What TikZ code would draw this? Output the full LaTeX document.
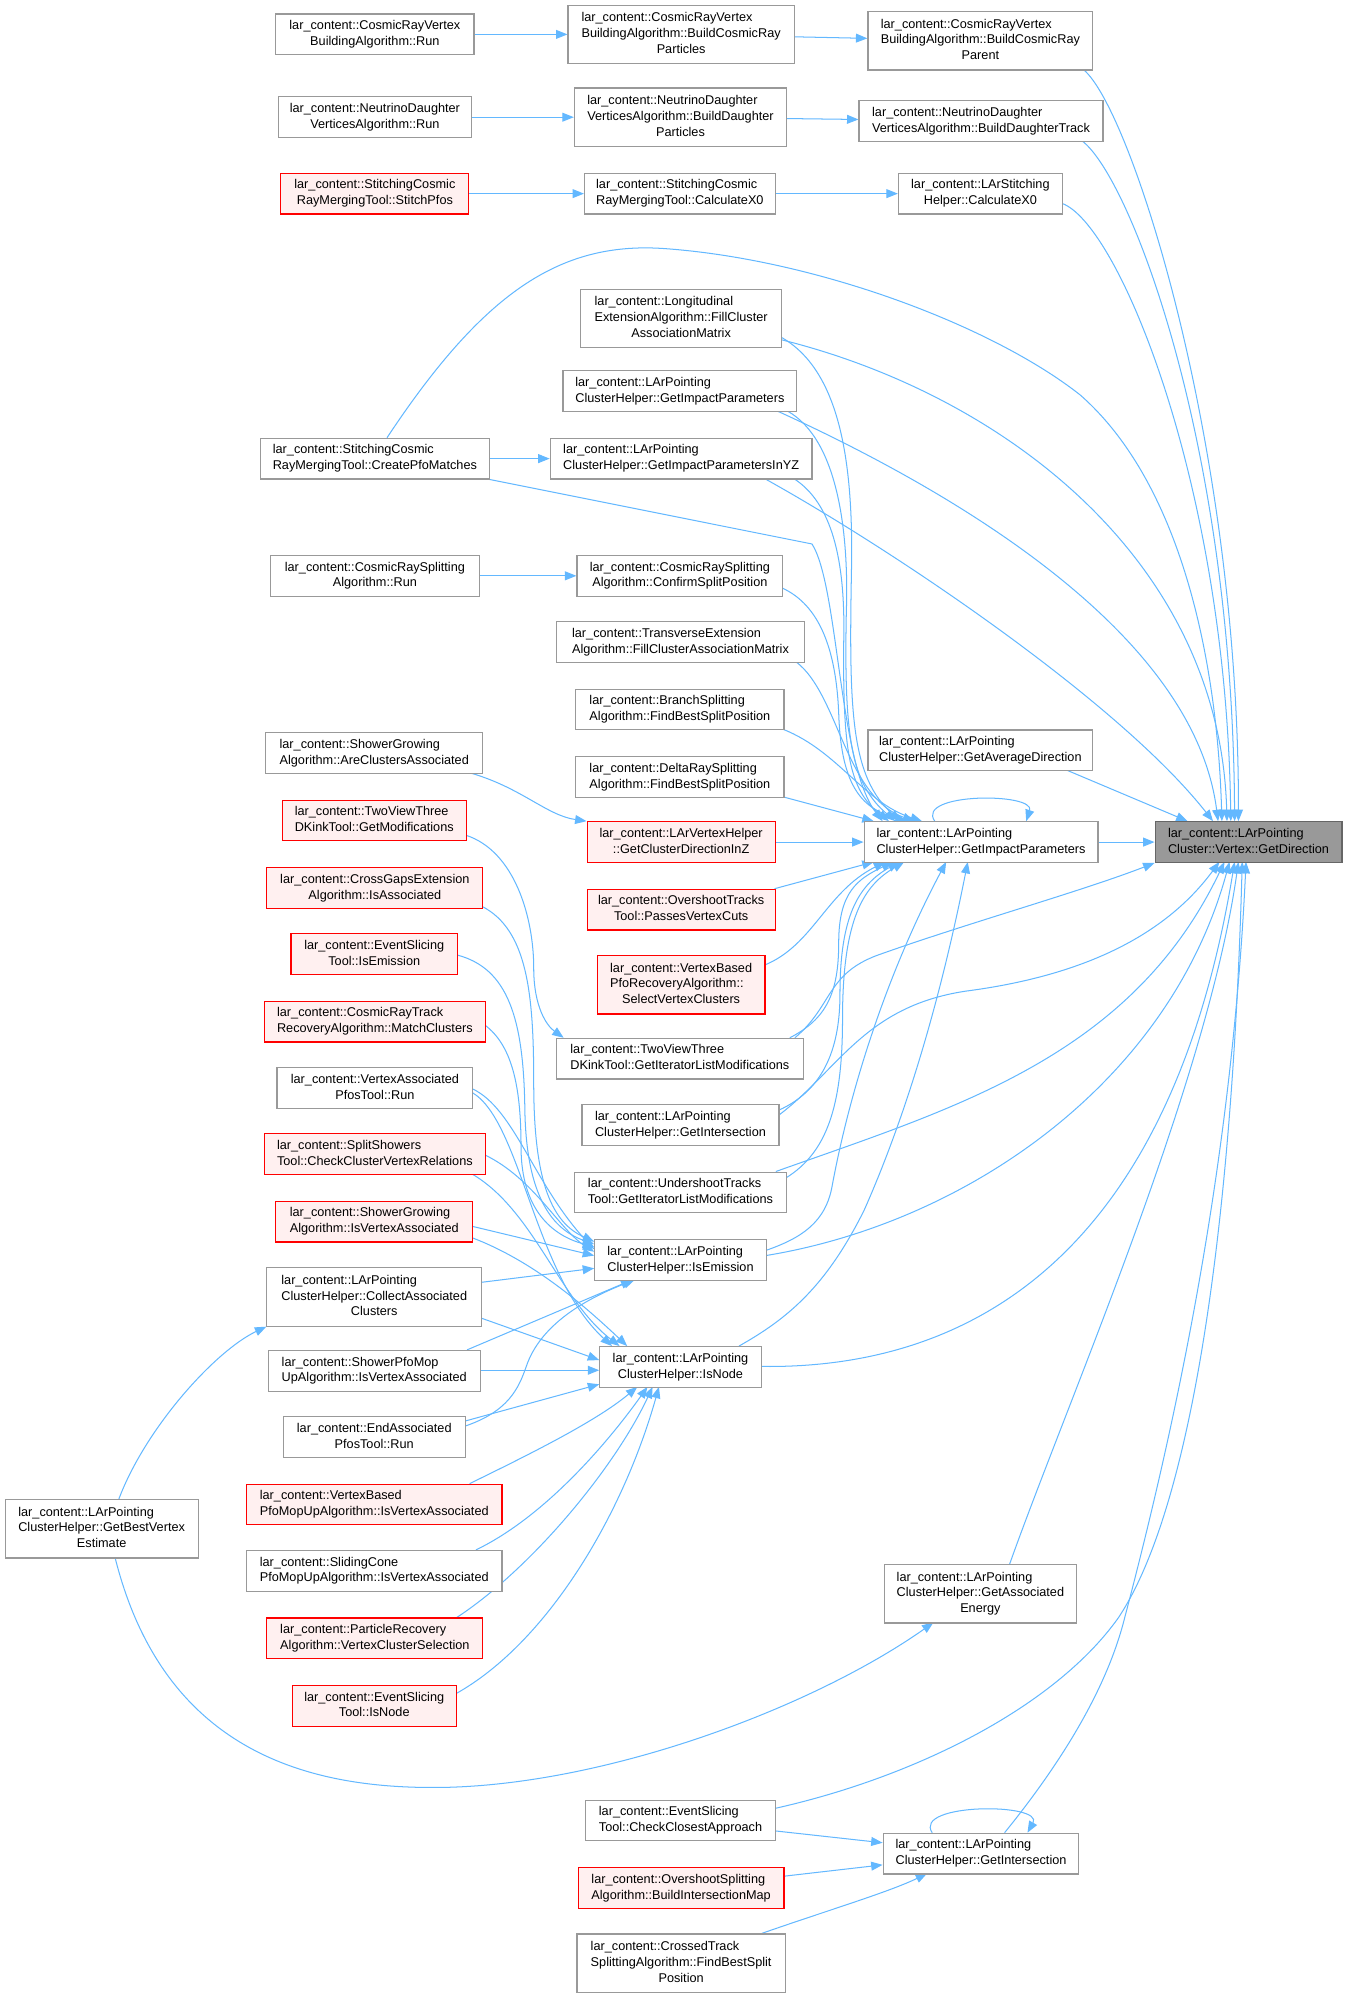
\documentclass[tikz,border=0pt]{standalone}
\usepackage{fontspec}
\setmainfont{Liberation Sans}
\usetikzlibrary{arrows.meta}
\definecolor{edgec}{HTML}{63B8FF}
\definecolor{bord}{HTML}{999999}
\definecolor{redfill}{HTML}{FFF0F0}
\definecolor{rootfill}{HTML}{999999}
\definecolor{rootbord}{HTML}{666666}
\newcommand{\lbl}[2]{\begin{tabular}{@{}l@{}}#1\\\multicolumn{1}{@{}c@{}}{#2}\end{tabular}}
\newcommand{\pp}[3]{([shift={(#2,#3)}]#1.north west)}
\pgfdeclarelayer{bg}
\pgfsetlayers{bg,main}
\tikzset{
 nd/.style={draw=bord, fill=white, line width=0.9pt, inner sep=0pt, font=\fontsize{10}{12.5}\selectfont},
 rd/.style={nd, draw=red, fill=redfill},
 rt/.style={nd, draw=rootbord, fill=rootfill},
 edg/.style={draw=edgec, line width=0.8pt, -{Triangle[length=9pt,width=7pt]}},
}
\begin{document}
\begin{tikzpicture}[x=1pt,y=-1.0025pt]
\useasboundingbox (0,0) rectangle (1060,1567.58);
% nodes
\node[rt, minimum width=147pt, minimum height=32pt] (T) at (982.5,661) {\lbl{lar\_content::LArPointing}{Cluster::Vertex::GetDirection}};
\node[nd, minimum width=156pt, minimum height=32pt] (E1) at (295,27) {\lbl{lar\_content::CosmicRayVertex}{BuildingAlgorithm::Run}};
\node[nd, minimum width=152pt, minimum height=32pt] (E2) at (295,92) {\lbl{lar\_content::NeutrinoDaughter}{VerticesAlgorithm::Run}};
\node[rd, minimum width=148pt, minimum height=32pt] (E3) at (295,152) {\lbl{lar\_content::StitchingCosmic}{RayMergingTool::StitchPfos}};
\node[nd, minimum width=178pt, minimum height=46pt] (B1) at (536,27) {\lbl{lar\_content::CosmicRayVertex\\BuildingAlgorithm::BuildCosmicRay}{Particles}};
\node[nd, minimum width=167pt, minimum height=46pt] (B2) at (535.5,92) {\lbl{lar\_content::NeutrinoDaughter\\VerticesAlgorithm::BuildDaughter}{Particles}};
\node[nd, minimum width=150pt, minimum height=32pt] (B3) at (535,152) {\lbl{lar\_content::StitchingCosmic}{RayMergingTool::CalculateX0}};
\node[nd, minimum width=177pt, minimum height=46pt] (A1) at (771.5,32) {\lbl{lar\_content::CosmicRayVertex\\BuildingAlgorithm::BuildCosmicRay}{Parent}};
\node[nd, minimum width=192pt, minimum height=32pt] (A2) at (772,95) {\lbl{lar\_content::NeutrinoDaughter}{VerticesAlgorithm::BuildDaughterTrack}};
\node[nd, minimum width=129pt, minimum height=32pt] (A3) at (771.5,152) {\lbl{lar\_content::LArStitching}{Helper::CalculateX0}};
\node[nd, minimum width=158pt, minimum height=46pt] (C1) at (536,250) {\lbl{lar\_content::Longitudinal\\ExtensionAlgorithm::FillCluster}{AssociationMatrix}};
\node[nd, minimum width=184pt, minimum height=32pt] (C2) at (535,307) {\lbl{lar\_content::LArPointing}{ClusterHelper::GetImpactParameters}};
\node[nd, minimum width=206pt, minimum height=32pt] (C3) at (536,360) {\lbl{lar\_content::LArPointing}{ClusterHelper::GetImpactParametersInYZ}};
\node[nd, minimum width=180pt, minimum height=32pt] (E4) at (295,360) {\lbl{lar\_content::StitchingCosmic}{RayMergingTool::CreatePfoMatches}};
\node[nd, minimum width=162pt, minimum height=32pt] (C4) at (535,452) {\lbl{lar\_content::CosmicRaySplitting}{Algorithm::ConfirmSplitPosition}};
\node[nd, minimum width=164pt, minimum height=32pt] (E5) at (295,452) {\lbl{lar\_content::CosmicRaySplitting}{Algorithm::Run}};
\node[nd, minimum width=195pt, minimum height=32pt] (C5) at (535.5,504) {\lbl{lar\_content::TransverseExtension}{Algorithm::FillClusterAssociationMatrix}};
\node[nd, minimum width=164pt, minimum height=32pt] (C6) at (535,557) {\lbl{lar\_content::BranchSplitting}{Algorithm::FindBestSplitPosition}};
\node[nd, minimum width=164pt, minimum height=32pt] (C7) at (535,610) {\lbl{lar\_content::DeltaRaySplitting}{Algorithm::FindBestSplitPosition}};
\node[nd, minimum width=171pt, minimum height=32pt] (E6) at (294.5,591) {\lbl{lar\_content::ShowerGrowing}{Algorithm::AreClustersAssociated}};
\node[nd, minimum width=177pt, minimum height=32pt] (GAD) at (771.5,589) {\lbl{lar\_content::LArPointing}{ClusterHelper::GetAverageDirection}};
\node[rd, minimum width=148pt, minimum height=32pt] (C8) at (536,661) {\lbl{lar\_content::LArVertexHelper}{::GetClusterDirectionInZ}};
\node[nd, minimum width=184pt, minimum height=32pt] (GIP) at (772,661) {\lbl{lar\_content::LArPointing}{ClusterHelper::GetImpactParameters}};
\node[rd, minimum width=145pt, minimum height=32pt] (E7) at (294.5,644) {\lbl{lar\_content::TwoViewThree}{DKinkTool::GetModifications}};
\node[rd, minimum width=170pt, minimum height=32pt] (E8) at (295,697) {\lbl{lar\_content::CrossGapsExtension}{Algorithm::IsAssociated}};
\node[rd, minimum width=148pt, minimum height=32pt] (C9) at (536,714) {\lbl{lar\_content::OvershootTracks}{Tool::PassesVertexCuts}};
\node[rd, minimum width=131pt, minimum height=32pt] (E9) at (294.5,749) {\lbl{lar\_content::EventSlicing}{Tool::IsEmission}};
\node[rd, minimum width=132pt, minimum height=46pt] (C10) at (536,773) {\lbl{lar\_content::VertexBased\\PfoRecoveryAlgorithm::}{SelectVertexClusters}};
\node[rd, minimum width=174pt, minimum height=32pt] (E10) at (295,802) {\lbl{lar\_content::CosmicRayTrack}{RecoveryAlgorithm::MatchClusters}};
\node[nd, minimum width=194pt, minimum height=32pt] (C11) at (535,831) {\lbl{lar\_content::TwoViewThree}{DKinkTool::GetIteratorListModifications}};
\node[nd, minimum width=154pt, minimum height=32pt] (E11) at (295,854) {\lbl{lar\_content::VertexAssociated}{PfosTool::Run}};
\node[nd, minimum width=155pt, minimum height=32pt] (C12) at (535.5,883) {\lbl{lar\_content::LArPointing}{ClusterHelper::GetIntersection}};
\node[rd, minimum width=174pt, minimum height=32pt] (E12) at (295,906) {\lbl{lar\_content::SplitShowers}{Tool::CheckClusterVertexRelations}};
\node[nd, minimum width=167pt, minimum height=32pt] (C13) at (535.5,936) {\lbl{lar\_content::UndershootTracks}{Tool::GetIteratorListModifications}};
\node[rd, minimum width=155pt, minimum height=32pt] (E13) at (294.5,959) {\lbl{lar\_content::ShowerGrowing}{Algorithm::IsVertexAssociated}};
\node[nd, minimum width=135pt, minimum height=32pt] (IE) at (535.5,989) {\lbl{lar\_content::LArPointing}{ClusterHelper::IsEmission}};
\node[nd, minimum width=169pt, minimum height=46pt] (E14) at (294.5,1018) {\lbl{lar\_content::LArPointing\\ClusterHelper::CollectAssociated}{Clusters}};
\node[nd, minimum width=167pt, minimum height=32pt] (E15) at (294.5,1076) {\lbl{lar\_content::ShowerPfoMop}{UpAlgorithm::IsVertexAssociated}};
\node[nd, minimum width=127pt, minimum height=32pt] (IN) at (535.5,1073) {\lbl{lar\_content::LArPointing}{ClusterHelper::IsNode}};
\node[nd, minimum width=143pt, minimum height=32pt] (E16) at (294.5,1128) {\lbl{lar\_content::EndAssociated}{PfosTool::Run}};
\node[rd, minimum width=201pt, minimum height=32pt] (E17) at (294.5,1181) {\lbl{lar\_content::VertexBased}{PfoMopUpAlgorithm::IsVertexAssociated}};
\node[nd, minimum width=152pt, minimum height=46pt] (F) at (80,1200) {\lbl{lar\_content::LArPointing\\ClusterHelper::GetBestVertex}{Estimate}};
\node[nd, minimum width=201pt, minimum height=32pt] (E18) at (294.5,1233) {\lbl{lar\_content::SlidingCone}{PfoMopUpAlgorithm::IsVertexAssociated}};
\node[nd, minimum width=151pt, minimum height=46pt] (GAE) at (771.5,1251) {\lbl{lar\_content::LArPointing\\ClusterHelper::GetAssociated}{Energy}};
\node[rd, minimum width=170pt, minimum height=32pt] (E19) at (295,1286) {\lbl{lar\_content::ParticleRecovery}{Algorithm::VertexClusterSelection}};
\node[rd, minimum width=129pt, minimum height=32pt] (E20) at (294.5,1339) {\lbl{lar\_content::EventSlicing}{Tool::IsNode}};
\node[nd, minimum width=149pt, minimum height=32pt] (D1) at (535.5,1429) {\lbl{lar\_content::EventSlicing}{Tool::CheckClosestApproach}};
\node[nd, minimum width=154pt, minimum height=32pt] (GI) at (772,1455) {\lbl{lar\_content::LArPointing}{ClusterHelper::GetIntersection}};
\node[rd, minimum width=162pt, minimum height=32pt] (D2) at (536,1482) {\lbl{lar\_content::OvershootSplitting}{Algorithm::BuildIntersectionMap}};
\node[nd, minimum width=164pt, minimum height=46pt] (D3) at (536,1541) {\lbl{lar\_content::CrossedTrack\\SplittingAlgorithm::FindBestSplit}{Position}};
% edges
\begin{pgfonlayer}{bg}
\fill[white] (0,0) rectangle (1060,1567.58);
\draw[edg] (E1) -- (B1);
\draw[edg] (B1) -- (A1);
\draw[edg] (E2) -- (B2);
\draw[edg] (B2) -- (A2);
\draw[edg] (E3) -- (B3);
\draw[edg] (B3) -- (A3);
\draw[edg] \pp{A1}{170}{46} .. controls (890,85) and (975,350) .. \pp{T}{66}{0};
\draw[edg] \pp{A2}{176}{32} .. controls (890,140) and (970,350) .. \pp{T}{63}{0};
\draw[edg] \pp{A3}{129}{24} .. controls (880,175) and (965,380) .. \pp{T}{60}{0};
\draw[edg] (E4) -- (C3);
\draw[edg] \pp{E4}{100}{0} .. controls (380,230) and (440,190) .. (521,195) .. controls (640,203) and (780,255) .. (850,310) .. controls (930,380) and (958,520) .. \pp{T}{53}{0};
\draw[edg] (E4.south east) -- (639,427) .. controls (660,460) and (660,600) .. \pp{GIP}{15}{0};
\draw[edg] \pp{C1}{158}{38} .. controls (660,290) and (672,360) .. (670,450) .. controls (668,560) and (670,610) .. \pp{GIP}{29}{0};
\draw[edg] \pp{C1}{158}{40} .. controls (790,310) and (960,440) .. \pp{T}{57}{0};
\draw[edg] \pp{C2}{177}{32} .. controls (660,345) and (668,420) .. (666,480) .. controls (664,580) and (670,615) .. \pp{GIP}{25}{0};
\draw[edg] \pp{C2}{169}{32} .. controls (760,390) and (940,500) .. \pp{T}{50}{0};
\draw[edg] \pp{C3}{192}{32} .. controls (655,395) and (665,440) .. (664,500) .. controls (663,590) and (668,620) .. \pp{GIP}{20}{0};
\draw[edg] \pp{C3}{169}{32} .. controls (700,430) and (880,550) .. \pp{T}{46}{0};
\draw[edg] (E5) -- (C4);
\draw[edg] \pp{C4}{162}{26} .. controls (645,475) and (658,510) .. (660,560) .. controls (662,620) and (680,635) .. \pp{GIP}{34}{0};
\draw[edg] \pp{C5}{189}{32} .. controls (660,545) and (665,625) .. \pp{GIP}{40}{0};
\draw[edg] \pp{C6}{164}{32} .. controls (660,590) and (680,630) .. \pp{GIP}{46}{0};
\draw[edg] \pp{C7}{164}{32} -- \pp{GIP}{8}{0};
\draw[edg] \pp{E6}{161}{32} .. controls (410,618) and (430,640) .. (C8.north west);
\draw[edg] (C8) -- (GIP);
\draw[edg] \pp{GIP}{56}{0} .. controls (720,622) and (815,622) .. \pp{GIP}{128}{0};
\draw[edg] (GIP) -- (T);
\draw[edg] \pp{GAD}{157}{32} -- \pp{T}{26}{0};
\draw[edg] \pp{C9}{148}{0} -- \pp{GIP}{8}{32};
\draw[edg] \pp{C10}{132}{8} .. controls (640,742) and (650,700) .. \pp{GIP}{17}{32};
\draw[edg] \pp{C11}{184}{0} .. controls (650,800) and (660,780) .. (660,740) .. controls (660,700) and (675,690) .. \pp{GIP}{23}{32};
\draw[edg] \pp{C11}{188}{0} .. controls (655,790) and (650,765) .. (690,750) .. controls (760,725) and (850,700) .. (T.south west);
\draw[edg] \pp{C12}{155}{5} .. controls (650,855) and (661,820) .. (661,780) .. controls (661,720) and (675,695) .. \pp{GIP}{28}{32};
\draw[edg] \pp{C12}{155}{9} .. controls (660,840) and (680,790) .. (760,778) .. controls (860,765) and (920,730) .. \pp{T}{51}{32};
\draw[edg] \pp{C13}{167}{5} .. controls (650,905) and (663,870) .. (663,800) .. controls (663,720) and (680,695) .. \pp{GIP}{32}{32};
\draw[edg] \pp{C13}{159}{0} .. controls (750,870) and (890,830) .. \pp{T}{55}{32};
\draw[edg] \pp{IE}{135}{9} .. controls (630,972) and (650,960) .. (655,930) .. controls (670,850) and (700,760) .. \pp{GIP}{65}{32};
\draw[edg] \pp{IE}{135}{13} .. controls (760,960) and (920,850) .. \pp{T}{59}{32};
\draw[edg] \pp{IN}{110}{0} .. controls (620,1035) and (650,1010) .. (680,950) .. controls (720,860) and (745,760) .. \pp{GIP}{82}{32};
\draw[edg] \pp{IN}{127}{16} .. controls (760,1075) and (920,990) .. \pp{T}{63}{32};
\draw[edg] \pp{GAE}{99}{0} .. controls (840,1100) and (950,850) .. \pp{T}{66}{32};
\draw[edg] \pp{D1}{149}{7} .. controls (720,1395) and (830,1340) .. (880,1270) .. controls (940,1180) and (970,950) .. \pp{T}{69}{32};
\draw[edg] \pp{GI}{96}{0} .. controls (830,1390) and (870,1330) .. (885,1270) .. controls (930,1100) and (970,900) .. \pp{T}{72}{32};
\draw[edg] (D1) -- (GI);
\draw[edg] (D2) -- (GI);
\draw[edg] \pp{D3}{146}{0} .. controls (650,1500) and (700,1485) .. \pp{GI}{35}{32};
\draw[edg] \pp{GI}{39}{0} .. controls (718,1415) and (822,1415) .. \pp{GI}{114}{0};
\draw[edg] \pp{F}{90}{0} .. controls (115,1120) and (170,1060) .. (E14.south west);
\draw[edg] \pp{F}{87}{46} .. controls (130,1380) and (250,1405) .. (351,1403) .. controls (480,1400) and (640,1340) .. \pp{GAE}{39}{46};
\draw[edg] \pp{E7}{145}{28} .. controls (405,668) and (420,720) .. (420,760) .. controls (420,790) and (430,805) .. \pp{C11}{6}{0};
\draw[edg] \pp{E8}{170}{31} .. controls (415,730) and (420,780) .. (420,850) .. controls (420,930) and (435,960) .. \pp{IE}{0}{2};
\draw[edg] \pp{E9}{131}{17} .. controls (400,760) and (412,800) .. (413,870) .. controls (414,940) and (435,965) .. \pp{IE}{0}{4};
\draw[edg] \pp{E10}{174}{19} .. controls (402,820) and (410,850) .. (410,900) .. controls (410,950) and (435,970) .. \pp{IE}{0}{6};
\draw[edg] \pp{E11}{154}{17} .. controls (405,870) and (420,930) .. \pp{IE}{0}{8};
\draw[edg] \pp{E11}{154}{20} .. controls (410,880) and (420,1000) .. \pp{IN}{10}{0};
\draw[edg] \pp{E12}{174}{17} .. controls (420,925) and (440,965) .. \pp{IE}{0}{10};
\draw[edg] \pp{E12}{164}{32} .. controls (420,950) and (440,1020) .. \pp{IN}{16}{0};
\draw[edg] \pp{E13}{155}{20} -- \pp{IE}{0}{13};
\draw[edg] \pp{E13}{155}{29} .. controls (420,990) and (460,1025) .. \pp{IN}{22}{0};
\draw[edg] \pp{E14}{169}{12} -- \pp{IE}{0}{23};
\draw[edg] \pp{E14}{169}{40} -- \pp{IN}{0}{11};
\draw[edg] \pp{E15}{157}{0} -- \pp{IE}{30}{32};
\draw[edg] \pp{E15}{167}{16} -- \pp{IN}{0}{19};
\draw[edg] \pp{E16}{143}{4} -- \pp{IN}{0}{30};
\draw[edg] \pp{E16}{143}{8} .. controls (400,1108) and (408,1090) .. (414,1073) .. controls (425,1040) and (460,1020) .. \pp{IE}{32}{32};
\draw[edg] \pp{E17}{176}{0} .. controls (420,1140) and (470,1115) .. \pp{IN}{30}{32};
\draw[edg] \pp{E18}{181}{0} .. controls (430,1190) and (480,1130) .. \pp{IN}{38}{32};
\draw[edg] \pp{E19}{150}{0} .. controls (420,1230) and (485,1150) .. \pp{IN}{42}{32};
\draw[edg] \pp{E20}{129}{7} .. controls (430,1290) and (490,1190) .. \pp{IN}{47}{32};
\end{pgfonlayer}
\end{tikzpicture}
\end{document}
